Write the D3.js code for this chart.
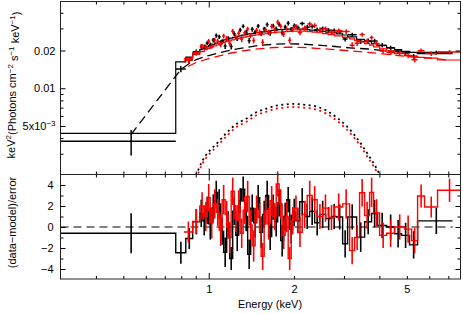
<!DOCTYPE html>
<html>
<head>
<meta charset="utf-8">
<script src="https://cdn.jsdelivr.net/npm/d3@7"></script>
<style>
	body { margin: 0; background: #fff; }
	text { font-family: "Liberation Sans", Arial, sans-serif; font-size: 11px; fill: #000; }
</style>
</head>
<body>
<svg id="chart" width="463" height="314"></svg>
<script>
// ========== DATA ==========
// dataset 1 (black): bin edges in keV, unfolded model and data (keV^2 ph/cm^2/s/keV), residuals
var blackEdges = [0.30, 0.765, 0.830, 0.878, 0.930, 0.952, 0.976, 1.000, 1.025, 1.050, 1.076, 1.102, 1.129, 1.157, 1.186, 1.215, 1.245, 1.276, 1.307, 1.339, 1.372, 1.406, 1.441, 1.476, 1.513, 1.550, 1.588, 1.627, 1.668, 1.708, 1.751, 1.794, 1.838, 1.884, 1.930, 1.978, 2.027, 2.094, 2.180, 2.270, 2.364, 2.462, 2.585, 2.714, 2.827, 2.967, 3.090, 3.325, 3.548, 3.754, 3.942, 4.241, 4.525, 4.789, 5.110, 5.455, 7.246];
var blackModel = [0.00436, 0.0162, 0.0177, 0.0191, 0.0203, 0.0208, 0.0214, 0.0219, 0.0224, 0.0229, 0.0234, 0.0239, 0.0243, 0.0247, 0.0251, 0.0255, 0.0259, 0.0262, 0.0265, 0.0268, 0.0271, 0.0273, 0.0276, 0.0278, 0.0280, 0.0282, 0.0284, 0.0287, 0.0289, 0.0291, 0.0293, 0.0294, 0.0295, 0.0296, 0.0297, 0.0297, 0.0297, 0.0296, 0.0294, 0.0291, 0.0288, 0.0284, 0.0280, 0.0276, 0.0271, 0.0266, 0.0257, 0.0245, 0.0235, 0.0227, 0.0219, 0.0210, 0.0203, 0.0197, 0.0193, 0.0189];
var blackData = [0.00377, 0.01422, 0.01682, 0.01953, 0.02149, 0.02136, 0.02294, 0.0222, 0.02421, 0.0263, 0.02572, 0.02347, 0.02168, 0.02492, 0.02149, 0.02722, 0.02497, 0.02915, 0.03127, 0.02801, 0.02393, 0.02951, 0.0281, 0.0313, 0.02737, 0.02972, 0.03223, 0.02754, 0.03137, 0.02975, 0.03233, 0.02768, 0.03083, 0.03306, 0.02943, 0.03157, 0.0305, 0.0328, 0.03072, 0.03106, 0.02932, 0.02993, 0.02901, 0.02884, 0.02827, 0.02468, 0.02669, 0.02356, 0.02397, 0.02386, 0.02203, 0.0210, 0.01978, 0.01907, 0.01799, 0.01928];
var blackErr = [0.00087, 0.0008, 0.0008, 0.00086, 0.00092, 0.00094, 0.00096, 0.00099, 0.001, 0.00103, 0.00105, 0.00108, 0.00109, 0.00111, 0.00113, 0.00115, 0.00117, 0.00118, 0.00119, 0.00121, 0.00122, 0.00123, 0.00124, 0.00125, 0.00126, 0.00127, 0.00128, 0.00129, 0.0013, 0.00131, 0.00132, 0.00132, 0.00133, 0.00133, 0.00134, 0.00134, 0.00119, 0.00118, 0.00118, 0.00116, 0.00115, 0.00114, 0.00112, 0.0011, 0.00108, 0.00106, 0.00103, 0.00098, 0.00094, 0.00091, 0.00088, 0.00084, 0.00081, 0.00079, 0.00077, 0.00066];
var blackRes = [-0.6, -2.45, -1.1, 0.5, 1.3, 0.6, 1.6, 0.3, 1.8, 3.3, 2.2, -0.4, -2.4, 0.2, -3.0, 1.5, -0.8, 2.5, 3.6, 1.0, -2.6, 1.8, 0.4, 2.8, -0.5, 1.2, 3.0, -0.9, 1.9, 0.5, 2.3, -1.3, 1.0, 2.6, -0.2, 1.4, 0.6, 2.4, 1.0, 1.5, 0.4, 1.2, 0.8, 1.0, 0.96, -1.6, 0.96, -0.96, 0.5, 1.28, 0.15, 0.0, -0.64, -0.8, -1.7, 0.58];
var blackResErr = [1.9, 1.05, 1.0, 1.2, 1.3, 1.4, 1.3, 1.5, 1.3, 1.1, 1.4, 1.3, 1.4, 1.3, 1.1, 1.3, 1.5, 1.2, 1.2, 1.4, 1.4, 1.3, 1.4, 1.2, 1.5, 1.3, 1.4, 1.3, 1.2, 1.4, 1.3, 1.5, 1.3, 1.2, 1.4, 1.3, 1.2, 1.3, 1.2, 1.3, 1.2, 1.3, 1.1, 1.2, 1.2, 1.3, 1.2, 1.4, 1.2, 1.3, 1.2, 1.2, 1.3, 1.2, 1.3, 1.25];
// continuum component (dashed) and line component (dotted)
var blackContE = [0.532, 0.797, 0.854, 0.904, 1.0, 1.1, 1.2, 1.35, 1.5, 1.7, 1.9, 2.1, 2.4, 2.8, 3.2, 3.65, 4.1, 4.65, 5.3, 6.35];
var blackCont = [0.00427, 0.0141, 0.01575, 0.01694, 0.01824, 0.01928, 0.02018, 0.02113, 0.02193, 0.02242, 0.02262, 0.02254, 0.02212, 0.02152, 0.02093, 0.02056, 0.0200, 0.01963, 0.01928, 0.01893];
var gaussE = [0.88, 0.905, 0.95, 1.0, 1.065, 1.15, 1.252, 1.36, 1.473, 1.6, 1.733, 1.85, 1.982, 2.15, 2.397, 2.6, 2.818, 3.05, 3.315, 3.65, 4.0, 4.1];
var blackGauss = [0.00185, 0.00207, 0.00264, 0.00312, 0.0036, 0.00435, 0.00519, 0.00573, 0.00643, 0.00688, 0.00727, 0.00741, 0.00751, 0.00741, 0.00714, 0.00664, 0.00587, 0.00504, 0.00406, 0.00295, 0.00207, 0.00182];

// dataset 2 (red)
var redEdges = [0.817, 0.878, 0.930, 0.965, 0.988, 1.012, 1.037, 1.063, 1.089, 1.115, 1.143, 1.171, 1.200, 1.230, 1.260, 1.291, 1.323, 1.355, 1.389, 1.423, 1.458, 1.494, 1.531, 1.569, 1.607, 1.647, 1.688, 1.730, 1.772, 1.816, 1.861, 1.907, 1.954, 2.002, 2.060, 2.137, 2.225, 2.317, 2.413, 2.523, 2.640, 2.781, 2.967, 3.141, 3.271, 3.406, 3.548, 3.694, 3.816, 4.007, 4.241, 4.525, 4.909, 5.195, 5.455, 5.772, 6.415, 7.730];
var redModel = [0.0172, 0.0186, 0.0196, 0.0203, 0.0208, 0.0213, 0.0218, 0.0222, 0.0227, 0.0231, 0.0235, 0.0239, 0.0243, 0.0247, 0.0250, 0.0253, 0.0256, 0.0259, 0.0261, 0.0264, 0.0266, 0.0268, 0.0270, 0.0272, 0.0275, 0.0277, 0.0278, 0.0280, 0.0281, 0.0282, 0.0283, 0.0284, 0.0285, 0.0286, 0.0286, 0.0285, 0.0283, 0.0280, 0.0277, 0.0273, 0.0268, 0.0262, 0.0255, 0.0248, 0.0241, 0.0234, 0.0227, 0.0221, 0.0214, 0.0206, 0.0198, 0.0190, 0.0183, 0.0179, 0.0176, 0.0174, 0.0168];
var redData = [0.01679, 0.0191, 0.02156, 0.02132, 0.02371, 0.02173, 0.0242, 0.02375, 0.02236, 0.0261, 0.02491, 0.02271, 0.02843, 0.02569, 0.0275, 0.02454, 0.02765, 0.02966, 0.02636, 0.02402, 0.02886, 0.02801, 0.02322, 0.02924, 0.02791, 0.03116, 0.02919, 0.03374, 0.03119, 0.02707, 0.02972, 0.02413, 0.02936, 0.03117, 0.02789, 0.03021, 0.03255, 0.03164, 0.02909, 0.02976, 0.02801, 0.02869, 0.0283, 0.02201, 0.0229, 0.02683, 0.02382, 0.02538, 0.0227, 0.01986, 0.01927, 0.0190, 0.01814, 0.01685, 0.01994, 0.01889, 0.01945];
var redErr = [0.00086, 0.00093, 0.00098, 0.00102, 0.00104, 0.00107, 0.00109, 0.00111, 0.00114, 0.00116, 0.00118, 0.0012, 0.00122, 0.00124, 0.00125, 0.00127, 0.00128, 0.0013, 0.00131, 0.00132, 0.00133, 0.00134, 0.00135, 0.00136, 0.00138, 0.00139, 0.00139, 0.0014, 0.00141, 0.00141, 0.00142, 0.00142, 0.00143, 0.00143, 0.00143, 0.00143, 0.00142, 0.0014, 0.00139, 0.00137, 0.00134, 0.00131, 0.00128, 0.00124, 0.00121, 0.00105, 0.00102, 0.00099, 0.00096, 0.00093, 0.00089, 0.00086, 0.00082, 0.00081, 0.00079, 0.00078, 0.00076];
var redRes = [-0.48, 0.54, 2.0, 1.0, 2.8, 0.4, 2.2, 1.4, -0.3, 2.6, 1.2, -1.0, 3.4, 0.8, 2.0, -0.6, 1.6, 2.9, 0.2, -1.8, 1.7, 0.9, -2.8, 1.5, 0.3, 2.5, 1.0, 4.1, 2.2, -0.8, 1.0, -3.0, 0.6, 1.8, -0.5, 1.2, 3.0, 2.6, 1.0, 1.8, 0.9, 1.9, 2.2, -2.25, -1.0, 3.26, 1.1, 3.3, 1.35, -0.8, -0.6, 0.0, -0.2, -1.3, 2.95, 1.9, 3.5];
var redResErr = [1.0, 1.1, 1.3, 1.4, 1.3, 1.5, 1.4, 1.3, 1.5, 1.4, 1.3, 1.5, 1.3, 1.3, 1.5, 1.4, 1.3, 1.5, 1.4, 1.5, 1.3, 1.4, 1.3, 1.3, 1.5, 1.4, 1.3, 1.2, 1.4, 1.3, 1.5, 1.1, 1.3, 1.2, 1.4, 1.3, 1.4, 1.3, 1.2, 1.3, 1.2, 1.3, 1.4, 1.3, 1.2, 1.3, 1.3, 1.4, 1.3, 1.2, 1.3, 1.2, 1.3, 1.2, 1.1, 1.0, 1.1];
var redContE = [0.846, 0.904, 1.0, 1.1, 1.2, 1.35, 1.5, 1.7, 1.9, 2.1, 2.4, 2.8, 3.2, 3.65, 4.1, 4.65, 5.3, 6.0, 7.07];
var redCont = [0.0149, 0.01605, 0.01726, 0.01824, 0.0191, 0.020, 0.02063, 0.02113, 0.02126, 0.0212, 0.02082, 0.0203, 0.0198, 0.01935, 0.01882, 0.01824, 0.01774, 0.01745, 0.0167];
var redGauss = [0.00175, 0.00196, 0.0025, 0.00295, 0.0034, 0.00411, 0.0049, 0.00541, 0.00608, 0.0065, 0.00687, 0.007, 0.0071, 0.007, 0.00675, 0.00627, 0.00555, 0.00476, 0.00384, 0.00279, 0.00196, 0.00172];

// axis ticks
var xMajor = [1];
var xMinor = [0.4, 0.5, 0.6, 0.7, 0.8, 0.9, 2, 3, 4, 5, 6, 7];
var xLabels = [1, 2, 5];
var yTopMajor = [0.005, 0.01, 0.02];
var yTopMinor = [0.003, 0.004, 0.006, 0.007, 0.008, 0.009, 0.03, 0.04];
var yResMajor = [-4, -2, 0, 2, 4];
var yResMinor = [-3, -1, 1, 3];

makeChart();

function makeChart() {
	// ========== LAYOUT ==========
	var left = 60.5, right = 460.5;
	var plotTop = 1.5, mid = 174.5, bottom = 279;

	var x = d3.scaleLog().domain([0.3, 7.73]).range([left, right]);
	var yTop = d3.scaleLog().domain([0.00205, 0.0492]).range([mid, plotTop]);
	var yRes = d3.scaleLinear().domain([-4.95, 5.0]).range([bottom, mid]);

	var svg = d3.select('#chart');

	svg.append('defs').append('clipPath')
		.attr('id', 'clipTop')
		.append('rect')
			.attr('x', left)
			.attr('y', plotTop)
			.attr('width', right - left)
			.attr('height', mid - plotTop);

	var gTop = svg.append('g').attr('clip-path', 'url(#clipTop)');
	var gRes = svg.append('g');

	// zero line in residual panel
	gRes.append('line')
		.attr('x1', x(0.3))
		.attr('x2', x(7.246))
		.attr('y1', yRes(0))
		.attr('y2', yRes(0))
		.attr('stroke', '#000')
		.attr('stroke-width', 1)
		.attr('stroke-dasharray', '8,5');

	var sets = [
		{ color: '#000', edges: blackEdges, model: blackModel, data: blackData, err: blackErr,
		  res: blackRes, resErr: blackResErr, contE: blackContE, cont: blackCont, gauss: blackGauss },
		{ color: '#ff0000', edges: redEdges, model: redModel, data: redData, err: redErr,
		  res: redRes, resErr: redResErr, contE: redContE, cont: redCont, gauss: redGauss }
	];

	sets.forEach(drawSet);
	drawAxes();

	function stepPoints(edges, vals) {
		var pts = vals.map(function(v, i) { return [edges[i], v]; });
		pts.push([edges[edges.length - 1], vals[vals.length - 1]]);
		return pts;
	}

	function drawSet(s) {
		var bins = s.model.map(function(m, i) {
			return {
				lo: s.edges[i], hi: s.edges[i + 1], c: (s.edges[i] + s.edges[i + 1]) / 2,
				data: s.data[i], err: s.err[i], res: s.res[i], resErr: s.resErr[i]
			};
		});

		// ---- top panel ----
		var stepTop = d3.line()
			.curve(d3.curveStepAfter)
			.x(function(d) { return x(d[0]); })
			.y(function(d) { return yTop(d[1]); });

		gTop.append('path')
			.attr('d', stepTop(stepPoints(s.edges, s.model)))
			.attr('fill', 'none')
			.attr('stroke', s.color)
			.attr('stroke-width', 1.2);

		var cross = gTop.append('g')
			.attr('stroke', s.color)
			.attr('stroke-width', 1.5);
		cross.selectAll('.hbar').data(bins).enter().append('line')
			.attr('x1', function(d) { return x(d.lo); })
			.attr('x2', function(d) { return x(d.hi); })
			.attr('y1', function(d) { return yTop(d.data); })
			.attr('y2', function(d) { return yTop(d.data); });
		cross.selectAll('.vbar').data(bins).enter().append('line')
			.attr('x1', function(d) { return x(d.c); })
			.attr('x2', function(d) { return x(d.c); })
			.attr('y1', function(d) { return yTop(d.data - d.err); })
			.attr('y2', function(d) { return yTop(d.data + d.err); });

		var compLine = d3.line()
			.x(function(d) { return x(d[0]); })
			.y(function(d) { return yTop(d[1]); });

		gTop.append('path')
			.attr('d', compLine(s.contE.map(function(e, i) { return [e, s.cont[i]]; })))
			.attr('fill', 'none')
			.attr('stroke', s.color)
			.attr('stroke-width', 1.3)
			.attr('stroke-dasharray', '9,5');

		gTop.append('path')
			.attr('d', compLine.curve(d3.curveMonotoneX)(gaussE.map(function(e, i) { return [e, s.gauss[i]]; })))
			.attr('fill', 'none')
			.attr('stroke', s.color)
			.attr('stroke-width', 1.8)
			.attr('stroke-dasharray', '2,3.5');

		// ---- residual panel ----
		var stepRes = d3.line()
			.curve(d3.curveStepAfter)
			.x(function(d) { return x(d[0]); })
			.y(function(d) { return yRes(d[1]); });

		gRes.append('path')
			.attr('d', stepRes(stepPoints(s.edges, s.res)))
			.attr('fill', 'none')
			.attr('stroke', s.color)
			.attr('stroke-width', 1.4);

		gRes.append('g')
			.attr('stroke', s.color)
			.attr('stroke-width', 1.6)
			.selectAll('line').data(bins).enter().append('line')
				.attr('x1', function(d) { return x(d.c); })
				.attr('x2', function(d) { return x(d.c); })
				.attr('y1', function(d) { return yRes(d.res - d.resErr); })
				.attr('y2', function(d) { return yRes(d.res + d.resErr); });
	}

	function tickAxis(axis, tx, ty) {
		var g = svg.append('g')
			.attr('transform', 'translate(' + tx + ',' + ty + ')')
			.call(axis);
		g.select('.domain').remove();
		g.selectAll('line').attr('stroke', '#000');
		return g;
	}

	function drawAxes() {
		var none = function() { return ''; };

		// x ticks on the four horizontal edges
		[[plotTop, 'down'], [mid, 'up'], [mid, 'down'], [bottom, 'up']].forEach(function(p) {
			var gen = p[1] === 'up' ? d3.axisBottom : d3.axisTop;
			tickAxis(gen(x).tickValues(xMinor).tickSize(-3).tickFormat(none), 0, p[0]);
			tickAxis(gen(x).tickValues(xMajor).tickSize(-6).tickFormat(none), 0, p[0]);
		});

		// x labels
		tickAxis(d3.axisBottom(x).tickValues(xLabels).tickSize(0).tickPadding(6)
			.tickFormat(d3.format('d')), 0, bottom);

		// top panel y ticks
		tickAxis(d3.axisRight(yTop).tickValues(yTopMinor).tickSize(-3).tickFormat(none), right, 0);
		tickAxis(d3.axisRight(yTop).tickValues(yTopMajor).tickSize(-5).tickFormat(none), right, 0);
		tickAxis(d3.axisLeft(yTop).tickValues(yTopMinor).tickSize(-3).tickFormat(none), left, 0);
		var gy = tickAxis(d3.axisLeft(yTop).tickValues(yTopMajor).tickSize(-5).tickPadding(5)
			.tickFormat(function(d) { return d === 0.005 ? '' : d3.format('.2f')(d); }), left, 0);
		gy.selectAll('text').filter(function(d) { return d === 0.005; })
			.each(function() {
				var t = d3.select(this);
				t.append('tspan').text('5x10');
				t.append('tspan').attr('dy', '-0.45em').style('font-size', '8px').text('\u22123');
			});

		// residual panel y ticks
		tickAxis(d3.axisRight(yRes).tickValues(yResMinor).tickSize(-3).tickFormat(none), right, 0);
		tickAxis(d3.axisRight(yRes).tickValues(yResMajor).tickSize(-5).tickFormat(none), right, 0);
		tickAxis(d3.axisLeft(yRes).tickValues(yResMinor).tickSize(-3).tickFormat(none), left, 0);
		tickAxis(d3.axisLeft(yRes).tickValues(yResMajor).tickSize(-5).tickPadding(7)
			.tickFormat(function(d) { return d < 0 ? '\u2212' + Math.abs(d) : String(d); }), left, 0);

		svg.selectAll('.tick text').attr('fill', '#000').style('font-size', null);
		svg.selectAll('.tick').attr('font-size', null).attr('font-family', null);

		// frames
		svg.append('rect')
			.attr('x', left).attr('y', plotTop)
			.attr('width', right - left).attr('height', mid - plotTop)
			.attr('fill', 'none').attr('stroke', '#222').attr('stroke-width', 1);
		svg.append('rect')
			.attr('x', left).attr('y', mid)
			.attr('width', right - left).attr('height', bottom - mid)
			.attr('fill', 'none').attr('stroke', '#222').attr('stroke-width', 1);

		// axis titles
		var yt = svg.append('text')
			.attr('transform', 'translate(15,85)rotate(-90)')
			.attr('text-anchor', 'middle');
		yt.append('tspan').text('keV');
		yt.append('tspan').attr('dy', '-0.45em').style('font-size', '8px').text('2');
		yt.append('tspan').attr('dy', '0.45em').text('(Photons cm');
		yt.append('tspan').attr('dy', '-0.45em').style('font-size', '8px').text('\u22122');
		yt.append('tspan').attr('dy', '0.45em').text(' s');
		yt.append('tspan').attr('dy', '-0.45em').style('font-size', '8px').text('\u22121');
		yt.append('tspan').attr('dy', '0.45em').text(' keV');
		yt.append('tspan').attr('dy', '-0.45em').style('font-size', '8px').text('\u22121');
		yt.append('tspan').attr('dy', '0.45em').text(')');

		svg.append('text')
			.attr('transform', 'translate(16,222.5)rotate(-90)')
			.attr('text-anchor', 'middle')
			.text('(data\u2212model)/error');

		svg.append('text')
			.attr('x', 270)
			.attr('y', 308)
			.attr('text-anchor', 'middle')
			.text('Energy (keV)');
	}
}
</script>
</body>
</html>
